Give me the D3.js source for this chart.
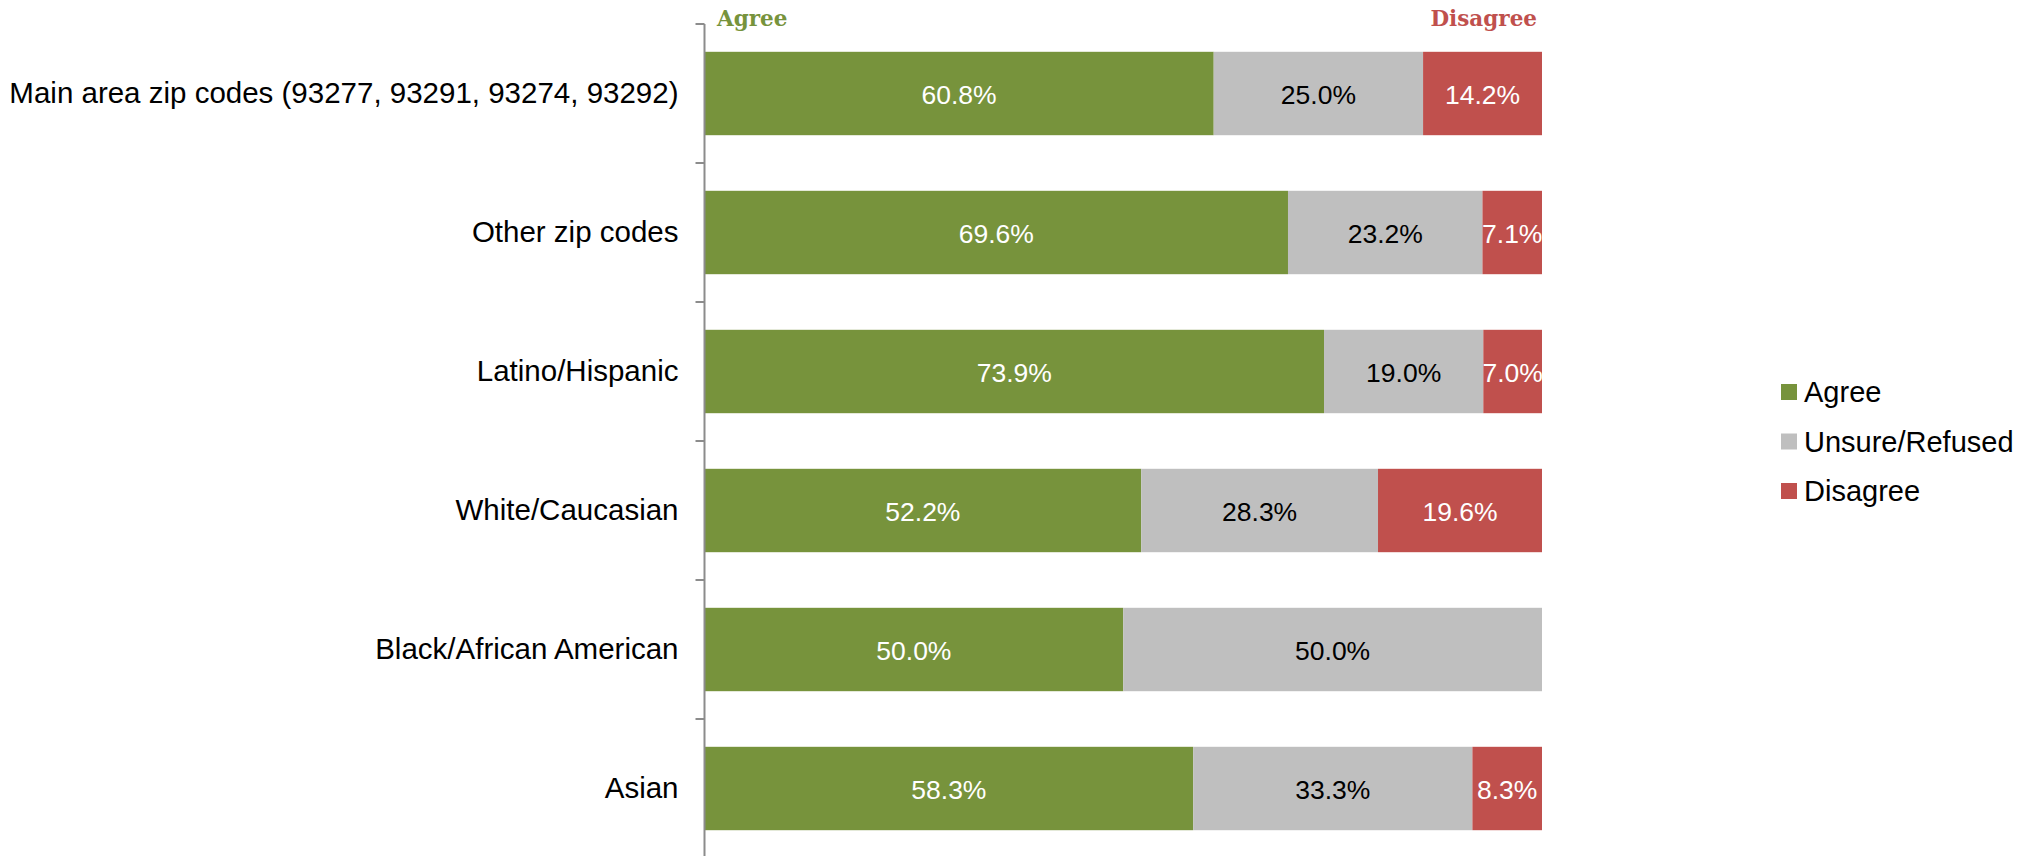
<!DOCTYPE html>
<html>
<head>
<meta charset="utf-8">
<script src="https://cdn.jsdelivr.net/npm/d3@7"></script>
<style>
  body { margin: 0; background: #fff; }
  text { font-family: "Liberation Sans", Arial, Helvetica, sans-serif; }
  .axis path, .axis line { stroke: #8c8c8c; stroke-width: 2; }
  .header { font-family: Georgia, "DejaVu Serif", serif; font-weight: bold; font-size: 21.5px; }
</style>
</head>
<body>
<div id="chart"></div>
<script>
var width = 2042, height = 856;

var categories = [
  "Main area zip codes (93277, 93291, 93274, 93292)",
  "Other zip codes",
  "Latino/Hispanic",
  "White/Caucasian",
  "Black/African American",
  "Asian"
];
var seriesNames = ["Agree", "Unsure/Refused", "Disagree"];
var agree    = [60.8, 69.6, 73.9, 52.2, 50.0, 58.3];
var unsure   = [25.0, 23.2, 19.0, 28.3, 50.0, 33.3];
var disagree = [14.2, 7.1, 7.0, 19.6, 0, 8.3];
var colors = ["#77933c", "#bfbfbf", "#c0504d"];
var textColors = ["#fff", "#000", "#fff"];

var rows = categories.map(function(c, i) {
  return { cat: c, "Agree": agree[i], "Unsure/Refused": unsure[i], "Disagree": disagree[i] };
});

var svg = d3.select("#chart").append("svg")
  .attr("width", width)
  .attr("height", height);

var x = d3.scaleLinear()
  .domain([0, 1])
  .range([704.5, 1542]);

var y = d3.scaleBand()
  .domain(categories)
  .range([24, 858])
  .paddingInner(0.4)
  .paddingOuter(0.2);

var color = d3.scaleOrdinal().domain(seriesNames).range(colors);

var stacked = d3.stack()
  .keys(seriesNames)
  .offset(d3.stackOffsetExpand)(rows);

var layer = svg.selectAll(".layer")
  .data(stacked)
  .enter().append("g")
    .attr("class", "layer")
    .attr("fill", function(d) { return color(d.key); });

layer.selectAll("rect")
  .data(function(d) { return d; })
  .enter().append("rect")
    .attr("x", function(d) { return x(d[0]); })
    .attr("y", function(d) { return y(d.data.cat); })
    .attr("width", function(d) { return x(d[1]) - x(d[0]); })
    .attr("height", y.bandwidth());

// value labels
stacked.forEach(function(s, si) {
  svg.append("g").selectAll("text")
    .data(s.filter(function(d) { return d.data[s.key] > 0; }))
    .enter().append("text")
      .attr("x", function(d) { return (x(d[0]) + x(d[1])) / 2; })
      .attr("y", function(d) { return y(d.data.cat) + y.bandwidth() / 2; })
      .attr("dy", "0.4em")
      .attr("text-anchor", "middle")
      .attr("fill", textColors[si])
      .style("font-size", "26.5px")
      .text(function(d) { return d.data[s.key].toFixed(1) + "%"; });
});

// category axis: labels at band centres, ticks at band edges
var axis = svg.append("g")
  .attr("class", "axis")
  .attr("transform", "translate(" + x(0) + ",0)")
  .call(d3.axisLeft(y).tickSize(0).tickPadding(26));

axis.select(".domain").remove();
axis.selectAll("text")
  .style("font-size", "29.5px")
  .attr("fill", "#000");

var edges = d3.range(categories.length + 1).map(function(i) {
  return y.range()[0] + i * y.step();
});

axis.append("line")
  .attr("x1", 0).attr("x2", 0)
  .attr("y1", edges[0]).attr("y2", height);

axis.selectAll(".edge")
  .data(edges)
  .enter().append("line")
    .attr("class", "edge")
    .attr("x1", -9).attr("x2", 0)
    .attr("y1", function(d) { return d; })
    .attr("y2", function(d) { return d; });

// headers
svg.append("text")
  .attr("class", "header")
  .attr("x", x(0) + 12.5)
  .attr("y", 26)
  .attr("fill", colors[0])
  .text("Agree");

svg.append("text")
  .attr("class", "header")
  .attr("x", x(1) - 5)
  .attr("y", 26)
  .attr("text-anchor", "end")
  .attr("fill", colors[2])
  .text("Disagree");

// legend
var legend = svg.append("g")
    .attr("class", "legend")
    .attr("transform", "translate(1781,392)")
  .selectAll("g")
    .data(seriesNames)
  .enter().append("g")
    .attr("transform", function(d, i) { return "translate(0," + (i * 49.5) + ")"; });

legend.append("rect")
  .attr("x", 0)
  .attr("y", -8)
  .attr("width", 16)
  .attr("height", 16)
  .attr("fill", function(d) { return color(d); });

legend.append("text")
  .attr("x", 23)
  .attr("dy", "0.35em")
  .style("font-size", "29px")
  .text(function(d) { return d; });
</script>
</body>
</html>
